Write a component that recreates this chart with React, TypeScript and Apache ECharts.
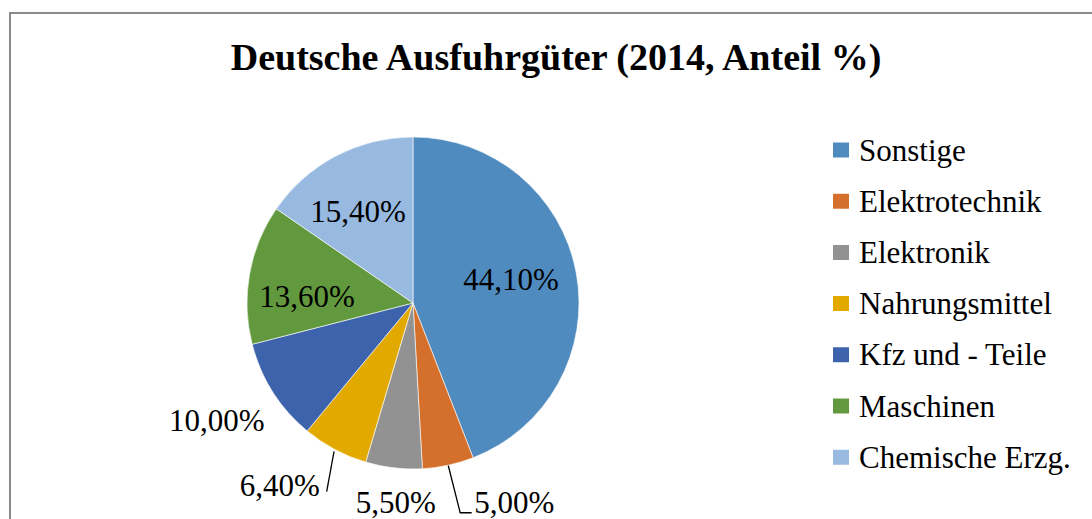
import React, { useEffect, useRef } from "react";
import * as echarts from "echarts";

const TITLE = "Deutsche Ausfuhrgüter (2014, Anteil %)";
const CATEGORIES = [
  "Sonstige",
  "Elektrotechnik",
  "Elektronik",
  "Nahrungsmittel",
  "Kfz und - Teile",
  "Maschinen",
  "Chemische Erzg.",
];
const VALUES = [44.1, 5.0, 5.5, 6.4, 10.0, 13.6, 15.4];
const COLORS = ["#4F8BBF", "#D4702C", "#929292", "#E2AA00", "#3D63AD", "#62993E", "#98B9E0"];

// label placement styling (anchor: inside = half radius on mid angle, edge = rim point)
const LABEL_PLACEMENT: Record<string, { anchor: "inside" | "edge"; dx: number; dy: number; line?: number[][] }> = {
  "Sonstige": { anchor: "inside", dx: 16.4, dy: -8.7 },
  "Elektrotechnik": { anchor: "edge", dx: 66, dy: 37, line: [[0, 0], [12, 47.5], [23.5, 47.5]] },
  "Elektronik": { anchor: "edge", dx: 2, dy: 34.5 },
  "Nahrungsmittel": { anchor: "edge", dx: -55, dy: 36.5, line: [[-0.8, 1.8], [-8.2, 42.2], [-8.2, 42.2]] },
  "Kfz und - Teile": { anchor: "edge", dx: -56, dy: 29 },
  "Maschinen": { anchor: "inside", dx: -24.3, dy: 8.5 },
  "Chemische Erzg.": { anchor: "inside", dx: -16.4, dy: -18.5 },
};

const CX = 413;
const CY = 303;
const R = 166;
const FONT = "'Liberation Serif', 'Times New Roman', serif";

function fmt(v: number) {
  return v.toFixed(2).replace(".", ",") + "%";
}

export default function App() {
  const ref = useRef<HTMLDivElement>(null);
  useEffect(() => {
    if (!ref.current) return;
    const chart = echarts.init(ref.current, null, { renderer: "svg" });
    const total = VALUES.reduce((a, b) => a + b, 0);
    const mids: number[] = [];
    let cum = 0;
    VALUES.forEach((v) => {
      mids.push(((cum + v / 2) / total) * Math.PI * 2);
      cum += v;
    });

    const data = CATEGORIES.map((name, i) => ({
      name,
      value: VALUES[i],
      itemStyle: { color: COLORS[i] },
      labelLine: { show: !!LABEL_PLACEMENT[name].line },
    }));

    chart.setOption({
      animation: false,
      backgroundColor: "#ffffff",
      title: {
        text: TITLE,
        left: 556,
        top: 38,
        padding: 0,
        textAlign: "center",
        textStyle: { fontFamily: FONT, fontSize: 38, fontWeight: "bold", color: "#000" },
      },
      legend: {
        orient: "vertical",
        left: 831,
        top: 134.5,
        padding: 0,
        itemWidth: 18,
        itemHeight: 17,
        itemGap: 20.2,
        icon: "rect",
        data: CATEGORIES,
        textStyle: {
          fontFamily: FONT,
          fontSize: 31,
          color: "#000",
          lineHeight: 31,
          padding: [0, 0, 0, 4],
        },
      },
      graphic: [
        {
          type: "rect",
          silent: true,
          shape: { x: 10, y: 13, width: 1300, height: 800 },
          style: { fill: "none", stroke: "#8a8a8a", lineWidth: 2 },
        },
      ],
      series: [
        {
          type: "pie",
          center: [CX, CY],
          radius: R,
          startAngle: 90,
          clockwise: true,
          avoidLabelOverlap: false,
          data,
          itemStyle: { borderColor: "#ffffff", borderWidth: 0.6 },
          label: {
            show: true,
            position: "outside",
            formatter: (p: any) => fmt(p.value),
            fontFamily: FONT,
            fontSize: 31,
            color: "#000",
          },
          labelLine: {
            show: false,
            lineStyle: { color: "#000", width: 1.3 },
          },
          emphasis: { disabled: true },
          labelLayout: (params: any) => {
            const i = params.dataIndex;
            const name = CATEGORIES[i];
            const pl = LABEL_PLACEMENT[name];
            const m = mids[i];
            const rr = pl.anchor === "inside" ? R / 2 : R;
            const ax = CX + rr * Math.sin(m);
            const ay = CY - rr * Math.cos(m);
            const res: any = {
              x: ax + pl.dx,
              y: ay + pl.dy,
              align: "center",
              verticalAlign: "middle",
            };
            if (pl.line) {
              const ex = CX + R * Math.sin(m);
              const ey = CY - R * Math.cos(m);
              res.labelLinePoints = pl.line.map((p) => [ex + p[0], ey + p[1]]);
            }
            return res;
          },
        },
      ],
    });
    return () => chart.dispose();
  }, []);
  return (
    <div
      ref={ref}
      style={{ position: "absolute", left: 0, top: 0, width: 1092, height: 519 }}
    />
  );
}
